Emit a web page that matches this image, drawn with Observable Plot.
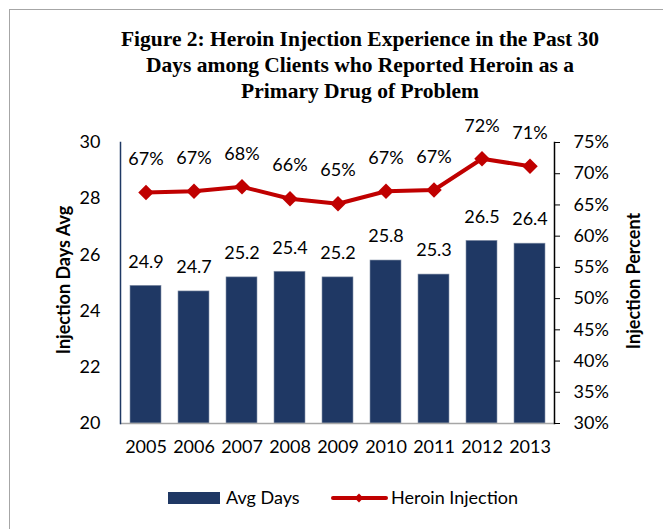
<!DOCTYPE html>
<html>
<head>
<meta charset="utf-8">
<script src="https://cdn.jsdelivr.net/npm/d3@7"></script>
<script src="https://cdn.jsdelivr.net/npm/@observablehq/plot@0.6"></script>
<style>
  html, body { margin: 0; padding: 0; background: #fff; }
  #wrap { position: relative; width: 663px; height: 529px; overflow: hidden; font-family: Lato, sans-serif; }
  #border { position: absolute; left: 9px; top: 9px; width: 700px; height: 600px; border: 1px solid #a6a6a6; }
  #title { position: absolute; left: 40px; width: 640px; top: 26px; text-align: center;
           font-family: "Liberation Serif", "Times New Roman", serif; font-weight: bold; font-size: 21.5px; line-height: 26px; color: #000; }
  .ylab { position: absolute; font-family: Lato, sans-serif; font-weight: bold; font-size: 18px; white-space: nowrap;
          transform: translate(-50%, -50%) rotate(-90deg); color: #000; }
  #chart { position: absolute; left: 0; top: 0; }
  #legend { position: absolute; left: 0; top: 0; }
</style>
</head>
<body>
<div id="wrap">
  <div id="border"></div>
  <div id="chart"></div>
  <div id="title">Figure 2: Heroin Injection Experience in the Past 30<br>Days among Clients who Reported Heroin as a<br>Primary Drug of Problem</div>
  <div class="ylab" style="left:63px; top:280px;">Injection Days Avg</div>
  <div class="ylab" style="left:633px; top:281px;">Injection Percent</div>
  <div id="legend"></div>
</div>
<script>
const years = ["2005","2006","2007","2008","2009","2010","2011","2012","2013"];
const avgDays = [24.9, 24.7, 25.2, 25.4, 25.2, 25.8, 25.3, 26.5, 26.4];
const injPct = [67.0, 67.2, 67.9, 66.0, 65.2, 67.2, 67.4, 72.4, 71.2];
const leftTicks = [20, 22, 24, 26, 28, 30];
const rightTicks = [30, 35, 40, 45, 50, 55, 60, 65, 70, 75];

const daysDomain = [20, 30];
const pctDomain = [30, 75];
const toDays = p => daysDomain[0] + (p - pctDomain[0]) / (pctDomain[1] - pctDomain[0]) * (daysDomain[1] - daysDomain[0]);
const toPct = d => pctDomain[0] + (d - daysDomain[0]) / (daysDomain[1] - daysDomain[0]) * (pctDomain[1] - pctDomain[0]);

const data = years.map((year, i) => ({year, days: avgDays[i], pct: injPct[i]}));

const NAVY = "#1F3864";
const RED = "#C00000";

const chart = Plot.plot({
  width: 663,
  height: 529,
  marginLeft: 120,
  marginRight: 109,
  marginTop: 142,
  marginBottom: 106,
  style: {fontFamily: "Lato, sans-serif", fontSize: "18px", background: "transparent", color: "#000", overflow: "visible"},
  x: {domain: years, paddingInner: 0.355, paddingOuter: 0.1775, axis: null},
  y: {domain: daysDomain, axis: null},
  marks: [
    Plot.barY(data, {x: "year", y1: daysDomain[0], y2: "days", fill: NAVY, stroke: "#8894aa", strokeWidth: 0.6}),
    Plot.ruleY([daysDomain[0]], {stroke: "#a6a6a6", strokeWidth: 1.5}),
    Plot.frame({anchor: "left", stroke: NAVY, strokeWidth: 1.5}),
    Plot.frame({anchor: "right", stroke: "#000", strokeWidth: 1.5}),
    Plot.axisY(leftTicks, {anchor: "left", tickSize: 0, tickPadding: 20, label: null, fontSize: 18}),
    Plot.axisY(rightTicks.map(toDays), {anchor: "right", tickSize: 5, tickPadding: 14, label: null,
      tickFormat: d => Math.round(toPct(d)) + "%", fontSize: 18, stroke: "#000"}),
    Plot.axisX({anchor: "bottom", tickSize: 0, tickPadding: 17, label: null, fontSize: 18}),
    Plot.text(data, {x: "year", y: "days", text: d => d.days.toFixed(1), dy: -24, fontSize: 18}),
    Plot.line(data, {x: "year", y: d => toDays(d.pct), stroke: RED, strokeWidth: 4}),
    Plot.dot(data, {x: "year", y: d => toDays(d.pct), symbol: "diamond2", r: 7, fill: RED, stroke: "none"}),
    Plot.text(data, {x: "year", y: d => toDays(d.pct), text: d => Math.round(d.pct) + "%", dy: -33, fontSize: 18})
  ]
});
document.getElementById("chart").appendChild(chart);

// Legend
const lg = d3.select("#legend").append("svg").attr("width", 663).attr("height", 529)
  .style("font-family", "Lato, sans-serif").style("font-size", "18px");
lg.append("rect").attr("x", 168).attr("y", 492).attr("width", 52).attr("height", 12).attr("fill", NAVY);
lg.append("text").attr("x", 226).attr("y", 498).attr("dy", "0.35em").text("Avg Days");
lg.append("line").attr("x1", 333).attr("x2", 386).attr("y1", 498).attr("y2", 498).attr("stroke", RED).attr("stroke-width", 4).attr("stroke-linecap", "round");
lg.append("path").attr("d", d3.symbol(d3.symbolDiamond2, 50)()).attr("transform", "translate(359,498)").attr("fill", RED);
lg.append("text").attr("x", 391).attr("y", 498).attr("dy", "0.35em").text("Heroin Injection");
</script>
</body>
</html>
